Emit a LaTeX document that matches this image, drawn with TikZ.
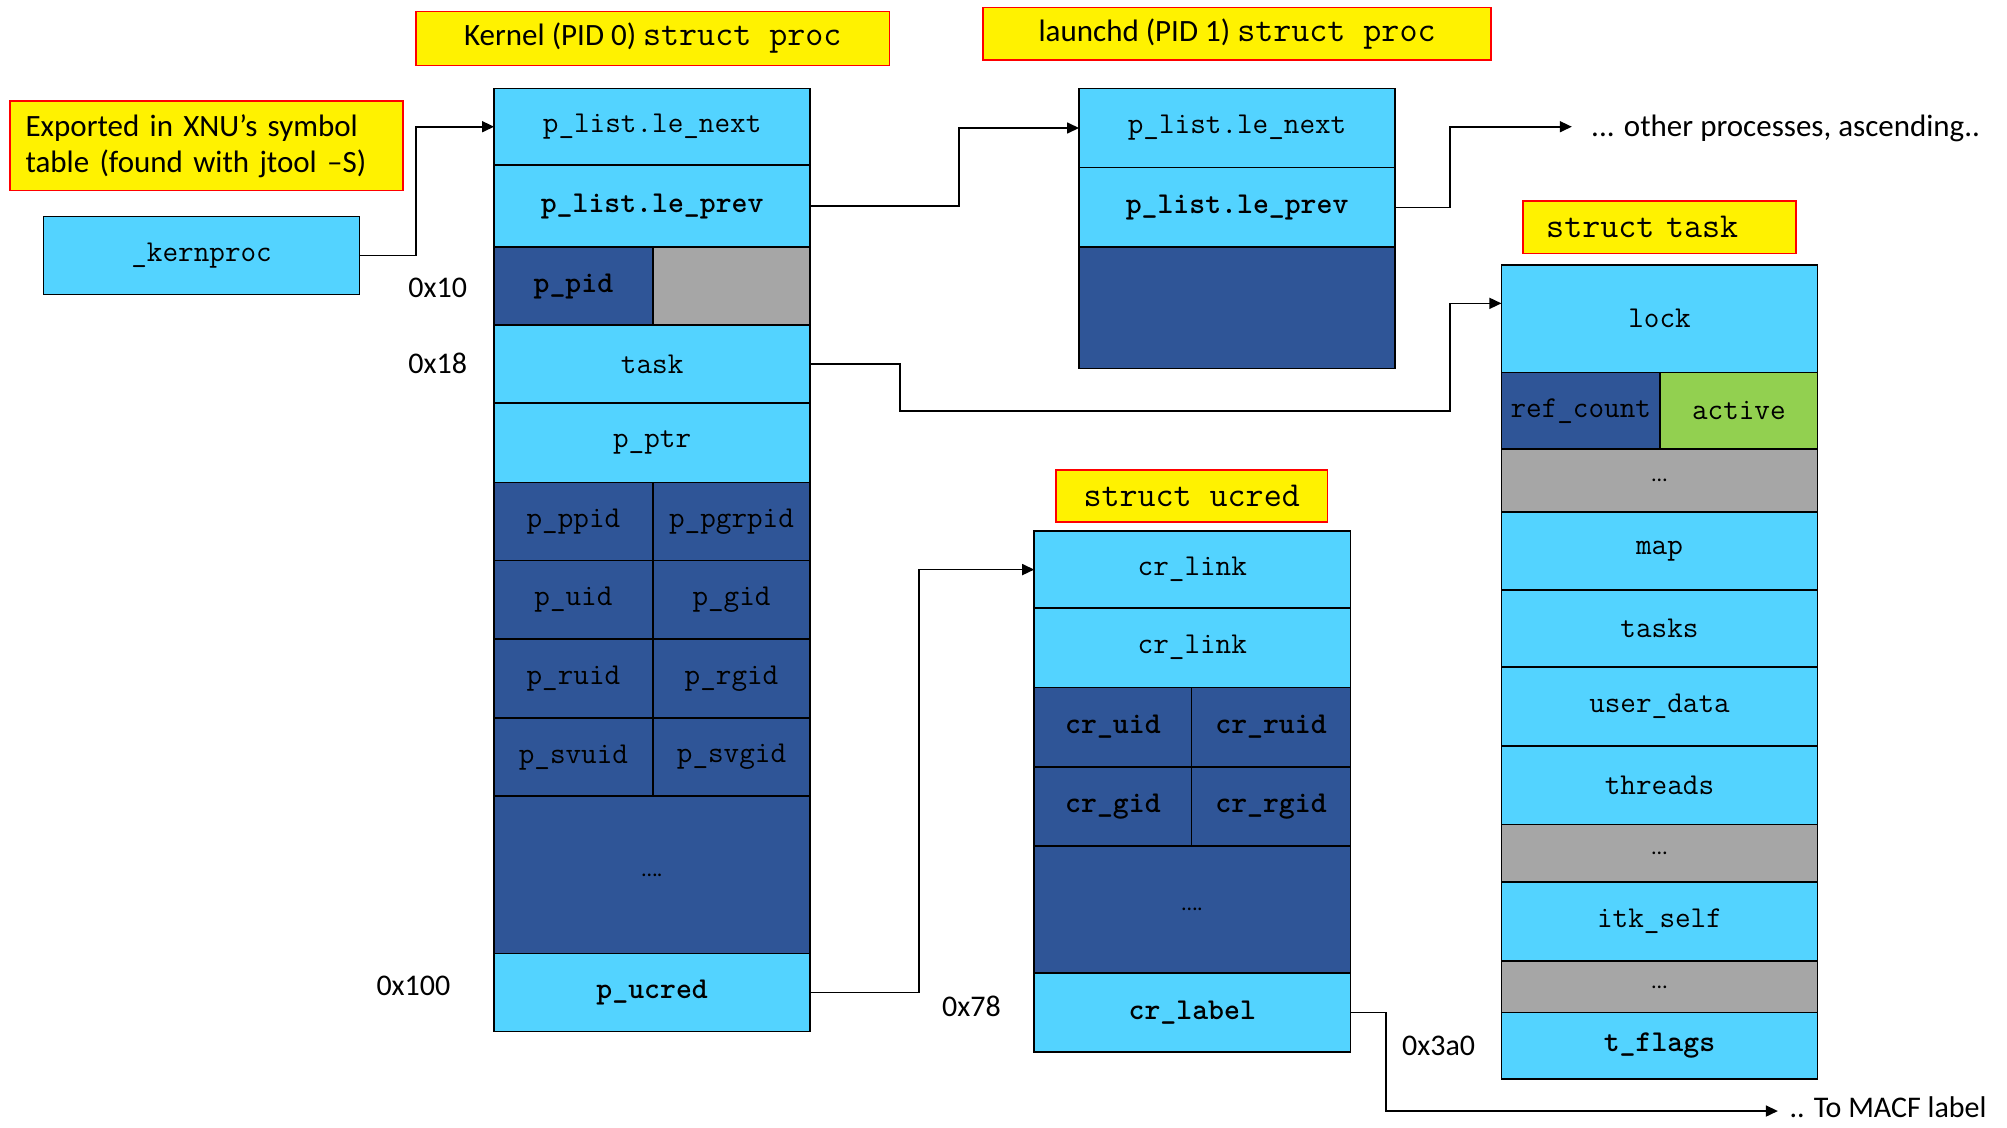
\documentclass[tikz,border=0pt]{standalone}
\usepackage{fontspec}
\setmainfont{Carlito}
\usetikzlibrary{arrows.meta}
\definecolor{cyanf}{HTML}{53D3FF}
\definecolor{navyf}{HTML}{2F5597}
\definecolor{grayf}{HTML}{A6A6A6}
\definecolor{greenf}{HTML}{92D050}

% \fld{name}{x1}{y1}{x2}{y2}{style}{text}: a box spanning two corners
\newcommand\fld[7]{\node[#6, minimum width={(#4-#2)*1.28pt}, minimum height={(#5-#3)*1.28pt}] (#1) at ({(#2+#4)/2},{(#3+#5)/2}) {#7};}
\newcommand\tagmono{\ttfamily\fontsize{35}{38}\selectfont}

\tikzset{
  cell/.style={draw=black, line width=1.6pt, inner sep=0pt, outer sep=0pt, text=black,
               font=\ttfamily\fontsize{30.3}{33}\selectfont},
  lite/.style={cell, fill=cyanf},
  dark/.style={cell, fill=navyf},
  grey/.style={cell, fill=grayf},
  lime/.style={cell, fill=greenf},
  tag/.style={draw=red, line width=1.5pt, fill=yellow, inner sep=0pt, outer sep=0pt,
              font=\fontsize{31}{36}\selectfont},
  conn/.style={line width=1.6pt, -{Triangle[length=12pt,width=11pt]}},
  off/.style={inner sep=0pt, font=\fontsize{30}{34}\selectfont},
  dots/.style={font=\fontsize{22}{24}\selectfont},
}

\begin{document}
\begin{tikzpicture}[x=1.28pt, y=-1.28pt]
\useasboundingbox (0,0) rectangle (1568,880.5);

% ---- titles ----
\fld{tkern}{325}{9}{695}{51}{tag}{Kernel (PID 0) {\tagmono struct proc}}
\fld{tlaunchd}{768}{6}{1165}{47}{tag}{launchd (PID 1) {\tagmono struct proc}}
\fld{texport}{8}{79}{315}{149}{tag, align=left, text width={(315-8-24)*1.28pt}}{Exported in XNU’s symbol\\table (found with jtool –S)}
\fld{ttask}{1190}{157}{1403}{198}{tag, text width={(1403-1190-36)*1.28pt}, align=left,
   font=\tagmono}{struct task}
\fld{tucred}{825}{367}{1037}{408}{tag}{\tagmono struct ucred}

% ---- _kernproc symbol ----
\fld{kernproc}{34}{169}{281}{230}{lite}{\_kernproc}

% ---- kernel struct proc ----
\fld{knext}{386}{69}{633}{129}{lite}{p\_list.le\_next}
\fld{kprev}{386}{129}{633}{193}{lite}{\bfseries p\_list.le\_prev}
\fld{kpid}{386}{193}{510}{254}{dark}{\bfseries p\_pid}
\fld{kpad}{510}{193}{633}{254}{grey}{}
\fld{ktask}{386}{254}{633}{315}{lite}{task}
\fld{kptr}{386}{315}{633}{377}{lite}{p\_ptr}
\fld{kppid}{386}{377}{510}{438}{dark}{p\_ppid}
\fld{kpgrp}{510}{377}{633}{438}{dark}{p\_pgrpid}
\fld{kuid}{386}{438}{510}{499}{dark}{p\_uid}
\fld{kgid}{510}{438}{633}{499}{dark}{p\_gid}
\fld{kruid}{386}{499}{510}{561}{dark}{p\_ruid}
\fld{krgid}{510}{499}{633}{561}{dark}{p\_rgid}
\fld{ksvuid}{386}{561}{510}{622}{dark}{p\_svuid}
\fld{ksvgid}{510}{561}{633}{622}{dark}{p\_svgid}
\fld{krest}{386}{622}{633}{745}{dark, dots}{….}
\fld{kucred}{386}{745}{633}{806}{lite}{\bfseries p\_ucred}

% ---- launchd struct proc ----
\fld{lnext}{843}{69}{1090}{131}{lite}{p\_list.le\_next}
\fld{lprev}{843}{131}{1090}{193}{lite}{\bfseries p\_list.le\_prev}
\fld{lrest}{843}{193}{1090}{288}{dark}{}

% ---- struct task ----
\fld{lock}{1173}{207}{1420}{291}{lite}{lock}
\fld{refc}{1173}{291}{1297}{351}{dark}{ref\_count}
\fld{active}{1297}{291}{1420}{351}{lime}{active}
\fld{tgap1}{1173}{351}{1420}{400}{grey, dots}{…}
\fld{map}{1173}{400}{1420}{461}{lite}{map}
\fld{tasks}{1173}{461}{1420}{521}{lite}{tasks}
\fld{udata}{1173}{521}{1420}{583}{lite}{user\_data}
\fld{threads}{1173}{583}{1420}{644}{lite}{threads}
\fld{tgap2}{1173}{644}{1420}{689}{grey, dots}{…}
\fld{itk}{1173}{689}{1420}{751}{lite}{itk\_self}
\fld{tgap3}{1173}{751}{1420}{791}{grey, dots}{…}
\fld{tflags}{1173}{791}{1420}{843}{lite}{\bfseries t\_flags}

% ---- struct ucred ----
\fld{crlinka}{808}{415}{1055}{475}{lite}{cr\_link}
\fld{crlinkb}{808}{475}{1055}{537}{lite}{cr\_link}
\fld{cruid}{808}{537}{931}{599}{dark}{\bfseries cr\_uid}
\fld{crruid}{931}{537}{1055}{599}{dark}{\bfseries cr\_ruid}
\fld{crgid}{808}{599}{931}{661}{dark}{\bfseries cr\_gid}
\fld{crrgid}{931}{599}{1055}{661}{dark}{\bfseries cr\_rgid}
\fld{crrest}{808}{661}{1055}{760}{dark, dots}{….}
\fld{crlabel}{808}{760}{1055}{822}{lite}{\bfseries cr\_label}

% ---- offsets ----
\node[off] (o10) at (342,225) {0x10};
\node[off] (o18) at (342,284) {0x18};
\node[off] (o100) at (323,770) {0x100};
\node[off] (o78) at (759,786) {0x78};
\node[off] (o3a0) at (1124,817) {0x3a0};

% ---- free-standing notes ----
\node[off, anchor=west, font=\fontsize{31}{36}\selectfont] (others) at (1243,100) {... other processes, ascending..};
\node[off, anchor=west] (macf) at (1398,865) {.. To MACF label};
\coordinate (othersin) at (1228,99);
\coordinate (macfin) at (1389,868);
\coordinate (lockin) at (1173,237);

% ---- pointers ----
\draw[conn] (kernproc.east) -- ++(44,0) |- (knext.west);
\draw[conn] (kprev.east) -- ++(116,0) |- (lnext.west);
\draw[conn] (lprev.east) -- ++(43,0) |- (othersin);
\draw[conn] (ktask.east) -- ++(70,0) -- ++(0,36.5) -- (1133,321) |- (lockin);
\draw[conn] (kucred.east) -- ++(85,0) |- (crlinka.west);
\draw[conn] (crlabel.east) -- ++(28,0) |- (macfin);
\end{tikzpicture}
\end{document}
